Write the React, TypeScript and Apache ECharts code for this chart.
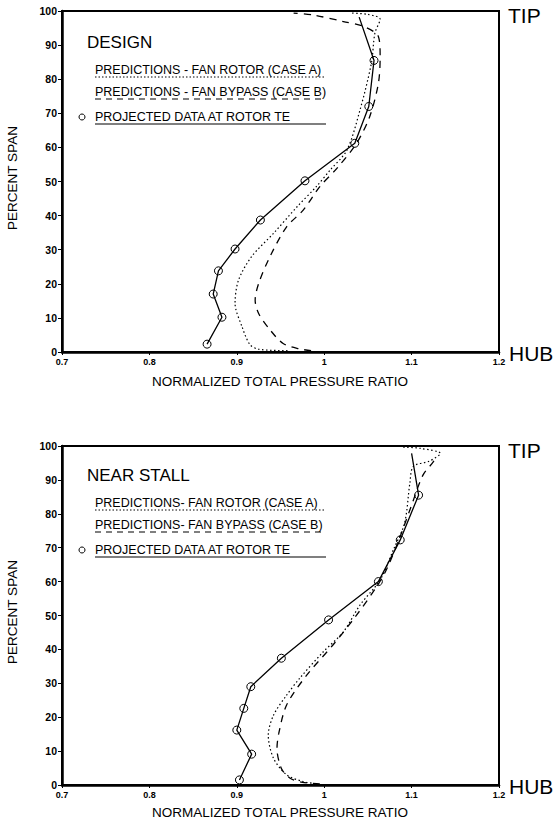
import React, { useEffect, useRef } from "react";
import * as echarts from "echarts";

const X_TICKS = [0.7, 0.8, 0.9, 1, 1.1, 1.2];
const Y_TICKS = [0, 10, 20, 30, 40, 50, 60, 70, 80, 90, 100];

const LEGEND_A = "PREDICTIONS - FAN ROTOR (CASE A)";
const LEGEND_B = "PREDICTIONS - FAN BYPASS (CASE B)";
const LEGEND_C = "PROJECTED DATA AT ROTOR TE";
const LEGEND_A2 = "PREDICTIONS- FAN ROTOR (CASE A)";
const LEGEND_B2 = "PREDICTIONS- FAN BYPASS (CASE B)";

// DESIGN
const designRotorA = [
  [0.958, 0.4], [0.925, 0.8], [0.915, 2.2], [0.906, 7.4], [0.898, 14.3], [0.902, 21.1],
  [0.917, 28], [0.942, 34.8], [0.969, 42.6], [0.991, 48.5], [1.007, 53.4], [1.026, 59.2],
  [1.041, 71], [1.054, 84.7], [1.058, 93.5], [1.064, 97.6], [1.05, 99], [1.03, 99.4],
];
const designBypassB = [
  [0.985, 0.4], [0.972, 0.9], [0.953, 2.5], [0.938, 6.5], [0.925, 11.3], [0.921, 15.2],
  [0.925, 20.1], [0.938, 28], [0.957, 36.7], [0.976, 41.6], [0.995, 48.5], [1.015, 54],
  [1.037, 61.2], [1.052, 69], [1.062, 78.8], [1.064, 86.6], [1.062, 92.5], [1.045, 95.5],
  [1.022, 96.9], [0.988, 98.8], [0.965, 99.4],
];
const designData = [
  [0.866, 2.3], [0.883, 10.2], [0.873, 17], [0.879, 23.8], [0.898, 30.2], [0.927, 38.7],
  [0.978, 50.2], [1.035, 61.2], [1.051, 72], [1.057, 85.5], [1.04, 98.2],
];

// NEAR STALL
const stallRotorA = [
  [0.99, 0.4], [0.976, 1], [0.957, 3], [0.942, 7.9], [0.936, 14.7], [0.942, 20.6],
  [0.957, 26.5], [0.972, 31.5], [0.999, 39.3], [1.022, 45.2], [1.041, 53.1], [1.064, 60.5],
  [1.079, 69.3], [1.092, 77.3], [1.098, 89], [1.102, 94], [1.12, 95.5], [1.133, 97.8],
  [1.11, 99.3], [1.09, 99.7],
];
const stallBypassB = [
  [0.995, 0.3], [0.975, 0.8], [0.961, 2], [0.951, 4.9], [0.946, 10.8], [0.948, 15.2],
  [0.957, 23.6], [0.98, 32.4], [1.01, 41.3], [1.037, 50.1], [1.06, 58.5], [1.071, 63.4],
  [1.085, 72], [1.098, 81.1], [1.113, 91.4], [1.125, 95.4], [1.128, 97],
];
const stallData = [
  [0.903, 1.5], [0.917, 9.1], [0.9, 16.2], [0.908, 22.6], [0.916, 29], [0.951, 37.4],
  [1.005, 48.7], [1.062, 60], [1.087, 72.3], [1.108, 85.5], [1.1, 97.8],
];

const FONT = "'Liberation Sans', Arial, sans-serif";

function xAxisDef(gridIndex: number) {
  return {
    type: "value",
    gridIndex,
    min: 0.7,
    max: 1.2,
    interval: 0.1,
    axisLine: { show: true, lineStyle: { color: "#000", width: 2.5 } },
    axisTick: { show: true, inside: false, length: 3, lineStyle: { color: "#000", width: 1 } },
    axisLabel: {
      color: "#000",
      fontFamily: FONT,
      fontSize: 9,
      fontWeight: "bold",
      margin: 5,
      formatter: (v: number) => {
        const r = Math.round(v * 10) / 10;
        return r === 1 ? "1" : String(r);
      },
    },
    splitLine: { show: false },
  };
}

function yAxisDef(gridIndex: number) {
  return {
    type: "value",
    gridIndex,
    min: 0,
    max: 100,
    interval: 10,
    axisLine: { show: true, lineStyle: { color: "#000", width: 2.5 } },
    axisTick: { show: true, inside: false, length: 4, lineStyle: { color: "#000", width: 1 } },
    axisLabel: {
      color: "#000",
      fontFamily: FONT,
      fontSize: 10.5,
      fontWeight: "bold",
      margin: 5,
    },
    splitLine: { show: false },
  };
}

function seriesFor(idx: number, a: number[][], b: number[][], d: number[][]) {
  return [
    {
      type: "line",
      xAxisIndex: idx,
      yAxisIndex: idx,
      data: a,
      smooth: 0.3,
      symbol: "none",
      lineStyle: { color: "#000", width: 1.2, type: [1.5, 2.5] },
    },
    {
      type: "line",
      xAxisIndex: idx,
      yAxisIndex: idx,
      data: b,
      smooth: 0.3,
      symbol: "none",
      lineStyle: { color: "#000", width: 1.3, type: [7, 6] },
    },
    {
      type: "line",
      xAxisIndex: idx,
      yAxisIndex: idx,
      data: d.map((p, i) =>
        i === d.length - 1 ? { value: p, symbol: "none" } : { value: p }
      ),
      smooth: false,
      symbol: "circle",
      symbolSize: 8,
      showAllSymbol: true,
      itemStyle: { color: "rgba(0,0,0,0)", borderColor: "#000", borderWidth: 1 },
      lineStyle: { color: "#000", width: 1.3 },
    },
  ];
}

function legendGraphics(topY: number, title: string, la: string, lb: string) {
  const textStyle = { fill: "#000", font: `12.5px ${FONT}` };
  const rows = [topY + 27, topY + 49, topY + 74];
  const x0 = 95;
  const x1 = 326;
  return [
    { type: "text", left: 87, top: topY - 9, style: { text: title, fill: "#000", font: `17px ${FONT}` } },
    { type: "text", x: x0, y: rows[0], style: { ...textStyle, text: la, textVerticalAlign: "middle" } },
    { type: "line", shape: { x1: x0, y1: rows[0] + 7, x2: x1, y2: rows[0] + 7 }, style: { stroke: "#000", lineWidth: 1, lineDash: [1.5, 2] } },
    { type: "text", x: x0, y: rows[1], style: { ...textStyle, text: lb, textVerticalAlign: "middle" } },
    { type: "line", shape: { x1: x0, y1: rows[1] + 7, x2: x1, y2: rows[1] + 7 }, style: { stroke: "#000", lineWidth: 1.2, lineDash: [6, 5] } },
    { type: "circle", shape: { cx: 82, cy: rows[2], r: 3 }, style: { fill: "none", stroke: "#000", lineWidth: 1 } },
    { type: "text", x: x0, y: rows[2], style: { ...textStyle, text: LEGEND_C, textVerticalAlign: "middle" } },
    { type: "line", shape: { x1: x0, y1: rows[2] + 7, x2: x1, y2: rows[2] + 7 }, style: { stroke: "#000", lineWidth: 1.2 } },
  ];
}

function frameGraphics(top: number, bottom: number, xTitleY: number, yTitleY: number) {
  return [
    { type: "text", x: 508, y: top + 4, style: { text: "TIP", fill: "#000", font: `21px ${FONT}`, textVerticalAlign: "middle" } },
    { type: "text", x: 509, y: bottom + 1, style: { text: "HUB", fill: "#000", font: `21px ${FONT}`, textVerticalAlign: "middle" } },
    {
      type: "text",
      x: 280,
      y: xTitleY,
      style: { text: "NORMALIZED TOTAL PRESSURE RATIO", fill: "#000", font: `13.5px ${FONT}`, textAlign: "center", textVerticalAlign: "middle" },
    },
    {
      type: "text",
      x: 12,
      y: yTitleY,
      rotation: Math.PI / 2,
      style: { text: "PERCENT SPAN", fill: "#000", font: `13.5px ${FONT}`, textAlign: "center", textVerticalAlign: "middle" },
    },
  ];
}

export default function App() {
  const ref = useRef<HTMLDivElement>(null);
  useEffect(() => {
    if (!ref.current) return;
    const chart = echarts.init(ref.current, undefined, { renderer: "svg" });
    chart.setOption({
      animation: false,
      backgroundColor: "#fff",
      grid: [
        { left: 62, top: 11, width: 437, height: 341, show: true, borderColor: "#000", borderWidth: 2, backgroundColor: "transparent" },
        { left: 62, top: 446, width: 437, height: 339, show: true, borderColor: "#000", borderWidth: 2, backgroundColor: "transparent" },
      ],
      xAxis: [xAxisDef(0), xAxisDef(1)],
      yAxis: [yAxisDef(0), yAxisDef(1)],
      series: [
        ...seriesFor(0, designRotorA, designBypassB, designData),
        ...seriesFor(1, stallRotorA, stallBypassB, stallData),
      ],
      graphic: [
        ...legendGraphics(43, "DESIGN", LEGEND_A, LEGEND_B),
        ...legendGraphics(476, "NEAR STALL", LEGEND_A2, LEGEND_B2),
        ...frameGraphics(11, 352, 381, 178),
        ...frameGraphics(446, 785, 812, 612),
      ],
    });
    return () => chart.dispose();
  }, []);
  void X_TICKS;
  void Y_TICKS;
  return (
    <div
      ref={ref}
      style={{ position: "absolute", left: 0, top: 0, width: 556, height: 823, background: "#fff" }}
    />
  );
}
